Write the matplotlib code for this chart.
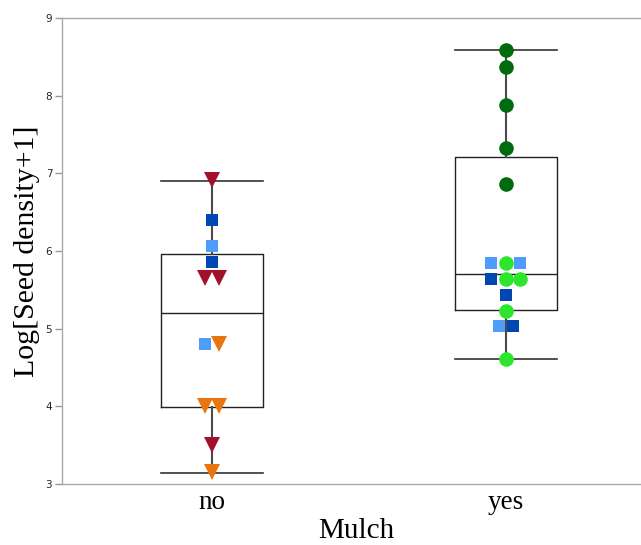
import numpy as np
import matplotlib
matplotlib.use("Agg")
import matplotlib.pyplot as plt

categories = ["no", "yes"]

# Individual observations (in drawing order) and their series
no_values = [6.91, 6.40, 6.06, 5.855, 5.65, 5.65, 4.80, 4.80, 4.01, 4.01, 3.50, 3.15]
no_series = ["dred", "dblue", "lblue", "dblue", "dred", "dred", "lblue", "orange",
             "orange", "orange", "dred", "orange"]

yes_values = [8.59, 8.37, 7.88, 7.33, 6.86, 5.84, 5.84, 5.84, 5.64, 5.64, 5.64,
              5.43, 5.23, 5.03, 5.03, 4.61]
yes_series = ["dgreen", "dgreen", "dgreen", "dgreen", "dgreen", "lblue", "lgreen", "lblue",
              "dblue", "lgreen", "lgreen", "dblue", "lgreen", "lblue", "dblue", "lgreen"]

# Box summary
box_q1 = [3.99, 5.245]
box_median = [5.20, 5.70]
box_q3 = [5.96, 7.21]
whisker_lo = [3.14, 4.61]
whisker_hi = [6.90, 8.59]

series_style = {
    "dred": ("v", "#a3102c"),
    "dblue": ("s", "#0047b3"),
    "lblue": ("s", "#4f9dfb"),
    "orange": ("v", "#e8760c"),
    "dgreen": ("o", "#006a0e"),
    "lgreen": ("o", "#2ee52e"),
}
marker_size = {"v": 12, "s": 9.3, "o": 10.5}

fig = plt.figure(figsize=(6.41, 5.45), dpi=100)
ax = fig.add_axes([62/641, 1-484/545, (641-62)/641, (484-18)/545])

stats = [dict(med=box_median[i], q1=box_q1[i], q3=box_q3[i],
              whislo=whisker_lo[i], whishi=whisker_hi[i], fliers=[])
         for i in range(2)]
ax.bxp(stats, positions=[0, 1], widths=0.347, showfliers=False,
       boxprops=dict(color="#222222", linewidth=1.0),
       medianprops=dict(color="#222222", linewidth=1.0),
       whiskerprops=dict(color="#4a4a4a", linewidth=1.5),
       capprops=dict(color="#333333", linewidth=1.2),
       capwidths=0.347, zorder=2)

# Points, dodged sideways when values coincide
spacing = 0.049
for cat, (vals, sers) in enumerate([(no_values, no_series), (yes_values, yes_series)]):
    used = set()
    for i in range(len(vals)):
        if i in used:
            continue
        grp = [j for j in range(len(vals)) if j not in used and abs(vals[j] - vals[i]) < 0.03]
        n = len(grp)
        for k, j in enumerate(grp):
            used.add(j)
            m, c = series_style[sers[j]]
            off = (k - (n - 1) / 2) * spacing
            ax.plot(cat + off, vals[j], marker=m, color=c, markersize=marker_size[m],
                    markeredgewidth=0, linestyle="none", zorder=3)

ax.set_xlim(-0.51, 1.46)
ax.set_ylim(3, 9)
ax.set_xticks([0, 1])
ax.set_xticklabels(categories, fontfamily="Liberation Serif", fontsize=19.5)
ax.set_yticks(range(3, 10))
ax.tick_params(axis="y", labelsize=7.5, colors="#999999", labelcolor="#222233",
               length=5, width=1, pad=2)
ax.tick_params(axis="x", length=0, pad=4)

for s in ["left", "bottom", "top"]:
    ax.spines[s].set_color("#a8a8a8")
    ax.spines[s].set_linewidth(1.0)
ax.spines["right"].set_visible(False)

ax.set_xlabel("Mulch", fontfamily="Liberation Serif", fontsize=21)
ax.xaxis.set_label_coords((356-62)/579, -(518-484)/466)
ax.set_ylabel("Log[Seed density+1]", fontfamily="Liberation Serif", fontsize=21.5)
ax.yaxis.set_label_coords(-(62-40)/579, 0.5)

fig.savefig("out.png", dpi=100)
